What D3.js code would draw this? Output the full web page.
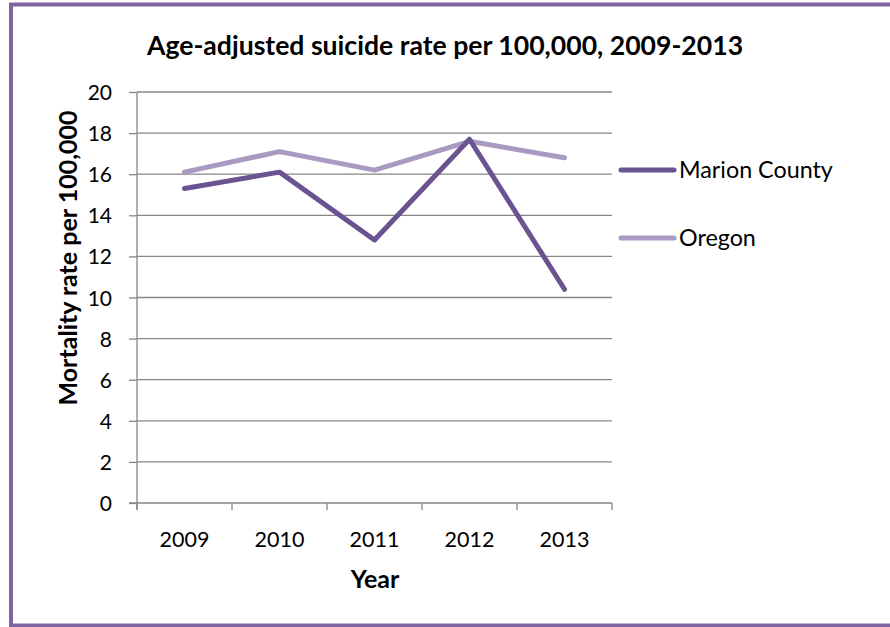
<!DOCTYPE html>
<html>
<head>
<meta charset="utf-8">
<script src="https://cdn.jsdelivr.net/npm/d3@7"></script>
<style>
  html, body { margin: 0; padding: 0; background: #fff; }
  svg { display: block; font-family: Lato, "Open Sans", sans-serif; }
</style>
</head>
<body>
<svg id="chart" width="890" height="627"></svg>
<script>
const years = ["2009", "2010", "2011", "2012", "2013"];
const marionCounty = [15.3, 16.1, 12.8, 17.7, 10.4];
const oregon = [16.1, 17.1, 16.2, 17.6, 16.8];
const yTicks = [0, 2, 4, 6, 8, 10, 12, 14, 16, 18, 20];
const seriesNames = ["Marion County", "Oregon"];
const seriesColors = ["#6B5391", "#A99AC2"];

const svg = d3.select("#chart");
const plot = { left: 137, right: 612, top: 92, bottom: 503 };
const FONT = "Lato, 'Open Sans', sans-serif";

// outer border
svg.append("rect")
  .attr("x", 11).attr("y", 4.5)
  .attr("width", 890).attr("height", 621)
  .attr("fill", "none").attr("stroke", "#8064A2").attr("stroke-width", 4);

const x = d3.scaleBand().domain(years).range([plot.left, plot.right]);
const y = d3.scaleLinear().domain([0, 20]).range([plot.bottom, plot.top]);

// gridlines
svg.append("g").selectAll("line").data(yTicks.filter(d => d > 0)).join("line")
  .attr("x1", plot.left).attr("x2", plot.right)
  .attr("y1", d => y(d)).attr("y2", d => y(d))
  .attr("stroke", "#868686").attr("stroke-width", 1.3);

// y axis
const yAxis = svg.append("g").attr("transform", `translate(${plot.left},0)`)
  .call(d3.axisLeft(y).tickValues(yTicks).tickSize(8).tickPadding(17).tickFormat(d3.format("d")));
yAxis.select(".domain").attr("stroke", "#868686").attr("stroke-width", 1.3)
  .attr("d", `M0,${plot.top}V${plot.bottom + 7}`);
yAxis.selectAll(".tick line").attr("stroke", "#868686").attr("stroke-width", 1.3);
yAxis.selectAll(".tick text").attr("font-size", 21).attr("fill", "#000")
  .attr("font-family", FONT).attr("dy", "0.36em");

// x axis
const xAxis = svg.append("g").attr("transform", `translate(0,${plot.bottom})`)
  .call(d3.axisBottom(x).tickSize(0).tickPadding(0));
xAxis.select(".domain").attr("stroke", "#868686").attr("stroke-width", 1.3)
  .attr("d", `M${plot.left - 8},0H${plot.right}`);
xAxis.selectAll(".tick text").attr("font-size", 21.5).attr("fill", "#000")
  .attr("font-family", FONT).attr("y", 44).attr("dy", null);
// category boundary ticks
const bounds = years.map(d => x(d)).concat([x(years[years.length - 1]) + x.bandwidth()]);
svg.append("g").selectAll("line").data(bounds).join("line")
  .attr("x1", d => d).attr("x2", d => d)
  .attr("y1", plot.bottom).attr("y2", plot.bottom + 7)
  .attr("stroke", "#868686").attr("stroke-width", 1.3);

// lines
const line = d3.line().x((d, i) => x(years[i]) + x.bandwidth() / 2).y(d => y(d));
[[oregon, 1], [marionCounty, 0]].forEach(([vals, idx]) => {
  svg.append("path").datum(vals)
    .attr("d", line)
    .attr("fill", "none")
    .attr("stroke", seriesColors[idx])
    .attr("stroke-width", 5)
    .attr("stroke-linecap", "round")
    .attr("stroke-linejoin", "round");
});

// legend
const legendY = [170, 238];
seriesNames.forEach((name, i) => {
  svg.append("line")
    .attr("x1", 621).attr("x2", 674)
    .attr("y1", legendY[i]).attr("y2", legendY[i])
    .attr("stroke", seriesColors[i]).attr("stroke-width", 5).attr("stroke-linecap", "round");
  svg.append("text")
    .attr("x", 679).attr("y", legendY[i]).attr("dy", "0.36em")
    .attr("font-size", 23.3).attr("fill", "#000").text(name);
});

// title
svg.append("text")
  .attr("x", 445).attr("y", 55)
  .attr("text-anchor", "middle")
  .attr("font-size", 26.6).attr("font-weight", "bold").attr("fill", "#000")
  .text("Age-adjusted suicide rate per 100,000, 2009-2013");

// x axis title
svg.append("text")
  .attr("x", 375).attr("y", 588)
  .attr("text-anchor", "middle")
  .attr("font-size", 25).attr("font-weight", "bold").attr("fill", "#000")
  .text("Year");

// y axis title
svg.append("text")
  .attr("transform", `translate(77,258) rotate(-90)`)
  .attr("text-anchor", "middle")
  .attr("font-size", 25).attr("font-weight", "bold").attr("fill", "#000")
  .text("Mortality rate per 100,000");
</script>
</body>
</html>
